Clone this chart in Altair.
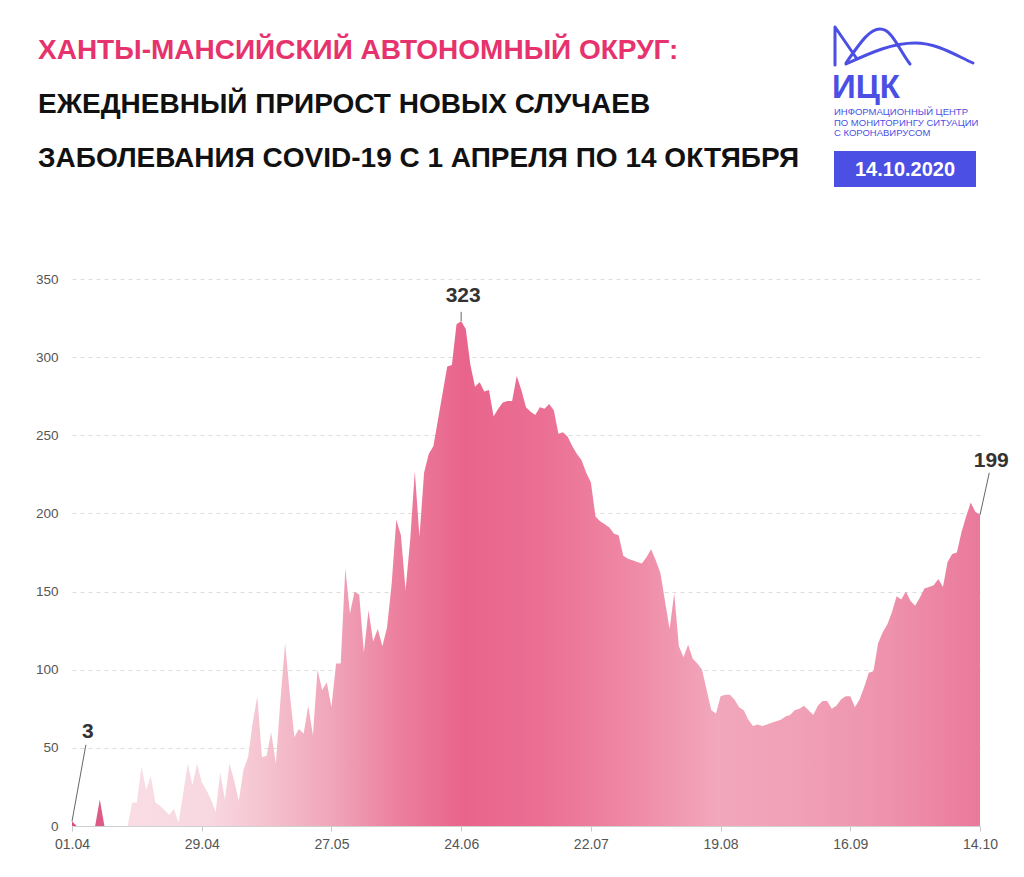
import re
import altair as alt
import pandas as pd

# ---------------- data ----------------
dates = pd.date_range("2020-04-01", "2020-10-14", freq="D")
cases = [
    3, 0, 0, 0, 0, 0, 17, 0, 0, 0,
    0, 0, 0, 15, 15, 38, 23, 32, 15, 13,
    10, 7, 11, 2, 21, 40, 26, 40, 28, 23,
    17, 9, 34, 17, 40, 29, 16, 36, 44, 66,
    83, 44, 45, 60, 40, 81, 117, 85, 57, 62,
    59, 77, 58, 100, 87, 92, 76, 104, 104, 165,
    136, 150, 148, 111, 138, 118, 126, 115, 127, 155,
    196, 186, 151, 183, 227, 185, 226, 238, 243, 260,
    277, 294, 295, 321, 323, 318, 295, 281, 284, 278,
    279, 262, 267, 271, 272, 272, 288, 279, 268, 265,
    263, 268, 267, 270, 266, 251, 252, 249, 243, 238,
    234, 226, 220, 198, 195, 193, 191, 187, 186, 173,
    171, 170, 169, 168, 172, 177, 170, 162, 144, 126,
    149, 115, 108, 116, 107, 104, 100, 87, 74, 72,
    83, 84, 84, 81, 76, 74, 68, 64, 65, 64,
    65, 66, 67, 68, 70, 71, 74, 75, 77, 74,
    71, 77, 80, 80, 75, 77, 81, 83, 83, 76,
    81, 89, 98, 99, 117, 124, 129, 137, 147, 145,
    150, 144, 141, 146, 152, 153, 154, 158, 153, 169,
    174, 175, 188, 198, 207, 201, 199,
]
tick_dates = ["2020-04-01", "2020-04-29", "2020-05-27", "2020-06-24",
              "2020-07-22", "2020-08-19", "2020-09-16", "2020-10-14"]
y_ticks = [0, 50, 100, 150, 200, 250, 300, 350]
ann_dates = ["2020-04-01", "2020-06-24", "2020-10-14"]
ann_values = [3, 323, 199]
ann_labels = ["3", "323", "199"]
title_lines = ["ХАНТЫ-МАНСИЙСКИЙ АВТОНОМНЫЙ ОКРУГ:",
               "ЕЖЕДНЕВНЫЙ ПРИРОСТ НОВЫХ СЛУЧАЕВ",
               "ЗАБОЛЕВАНИЯ COVID-19 С 1 АПРЕЛЯ ПО 14 ОКТЯБРЯ"]
logo_name = "ИЦК"
logo_lines = ["ИНФОРМАЦИОННЫЙ ЦЕНТР", "ПО МОНИТОРИНГУ СИТУАЦИИ", "С КОРОНАВИРУСОМ"]
date_badge = "14.10.2020"

# ---------------- layout / style ----------------
W, H = 908, 547
PAD_L, PAD_T = 64, 271          # plot origin = page (72, 279)
OX, OY = 72, 279
PINK = "#e6336e"
BLUE = "#4b4fe4"
TITLE_FONT = "Liberation Sans, Arial, sans-serif"
BASE_FONT = "Liberation Sans, Arial, sans-serif"


def px(x):
    return x - OX


def py(y):
    return y - OY


def dt(s):
    t = pd.Timestamp(s)
    return alt.DateTime(year=t.year, month=t.month, date=t.day)


df = pd.DataFrame({"date": dates, "value": cases})

x_scale = alt.Scale(domain=[dt(tick_dates[0]), dt(tick_dates[-1])])
y_scale = alt.Scale(domain=[0, 350], nice=False)

gradient = alt.Gradient(
    gradient="linear", x1=0, x2=1, y1=0, y2=0,
    stops=[
        alt.GradientStop(offset=0.0, color="#d94f7e"),
        alt.GradientStop(offset=0.036, color="#dd5c88"),
        alt.GradientStop(offset=0.045, color="#f9dde5"),
        alt.GradientStop(offset=0.15, color="#f8d8e1"),
        alt.GradientStop(offset=0.21, color="#f5c4d1"),
        alt.GradientStop(offset=0.29, color="#f0a3b9"),
        alt.GradientStop(offset=0.36, color="#ec7f9e"),
        alt.GradientStop(offset=0.43, color="#e9648c"),
        alt.GradientStop(offset=0.52, color="#eb6f94"),
        alt.GradientStop(offset=0.60, color="#ee84a2"),
        alt.GradientStop(offset=0.71, color="#f2a7bc"),
        alt.GradientStop(offset=0.80, color="#f0a0b7"),
        alt.GradientStop(offset=0.90, color="#ee92ad"),
        alt.GradientStop(offset=1.0, color="#ea799c"),
    ],
)

area = alt.Chart(df).mark_area(fill=gradient, line=False, interpolate="linear").encode(
    x=alt.X("date:T", scale=x_scale, title=None,
            axis=alt.Axis(values=[dt(s) for s in tick_dates], format="%d.%m",
                          labelFlush=False, labelOverlap=False, grid=False,
                          domainColor="#d0d0d0", tickColor="#c8c8c8", tickSize=5,
                          labelPadding=6, labelFontSize=14, labelColor="#555",
                          labelFont=BASE_FONT)),
    y=alt.Y("value:Q", scale=y_scale, title=None,
            axis=alt.Axis(values=y_ticks, grid=True, gridDash=[4, 4], gridColor="#dcdcdc",
                          domain=False, ticks=False, labelPadding=14, labelFontSize=13.5,
                          labelColor="#555", labelFont=BASE_FONT)),
)

# annotations (label positions are offsets from the data point)
label_offset_days = [3, 0, 2]
leader_top = [52, 329, 226]
text_base = [56, 335, 230]
ann = pd.DataFrame({
    "date": pd.to_datetime(ann_dates),
    "value": ann_values,
    "label": ann_labels,
})
ann["ldate"] = ann["date"] + pd.to_timedelta(label_offset_days, unit="D")
ann["lval"] = leader_top
ann["tval"] = text_base

leaders = alt.Chart(ann).mark_rule(color="#666", strokeWidth=1).encode(
    x=alt.X("date:T", scale=x_scale), y=alt.Y("value:Q", scale=y_scale),
    x2="ldate:T", y2="lval:Q")
ann_text = alt.Chart(ann).mark_text(font=BASE_FONT, fontSize=21, fontWeight="bold",
                                    color="#333", baseline="alphabetic", align="center",
                                    dx=2).encode(
    x=alt.X("ldate:T", scale=x_scale), y=alt.Y("tval:Q", scale=y_scale), text="label:N")

# title lines
title_layers = []
for i, (line, yb) in enumerate(zip(title_lines, [59, 113, 167])):
    title_layers.append(
        alt.Chart(pd.DataFrame({"t": [line]})).mark_text(
            font=TITLE_FONT, fontSize=28, fontWeight="bold", align="left",
            baseline="alphabetic", color=PINK if i == 0 else "#111").encode(
            x=alt.value(px(38)), y=alt.value(py(yb)), text="t:N"))

# logo drawing (custom symbol path)
logo_path_abs = ("M835,27 L835,65 M835,27 L857,59 "
                 "M846,63 C862,40 870,29 880,29 C892,29 898,48 910,64 "
                 "M846,64 C872,52 893,43 915,43 C937,43 955,55 973,63")
LCX, LCY, LS = 905, 45, 71.0


def _conv(m):
    x, y = float(m.group(1)), float(m.group(2))
    return f"{(x - LCX) / LS:.4f},{(y - LCY) / LS:.4f}"


logo_path = re.sub(r"(-?\d+(?:\.\d+)?),(-?\d+(?:\.\d+)?)", _conv, logo_path_abs)
logo_df = pd.DataFrame({"t": [logo_name]})
logo_shape = alt.Chart(logo_df).mark_point(
    shape=logo_path, size=(2 * LS) ** 2, filled=False, stroke=BLUE, strokeWidth=3,
    opacity=1, strokeCap="round", strokeJoin="round").encode(
    x=alt.value(px(LCX)), y=alt.value(py(LCY)))
logo_text = alt.Chart(logo_df).mark_text(
    font=BASE_FONT, fontSize=33, fontWeight="bold", color=BLUE, align="left",
    baseline="alphabetic").encode(x=alt.value(px(832)), y=alt.value(py(98)), text="t:N")
small_layers = []
for line, yb in zip(logo_lines, [115, 125.5, 136]):
    small_layers.append(
        alt.Chart(pd.DataFrame({"t": [line]})).mark_text(
            font=BASE_FONT, fontSize=9.5, color=BLUE, align="left",
            baseline="alphabetic").encode(x=alt.value(px(834)), y=alt.value(py(yb)), text="t:N"))
badge_df = pd.DataFrame({"t": [date_badge]})
badge_rect = alt.Chart(badge_df).mark_rect(color=BLUE).encode(
    x=alt.value(px(834)), x2=alt.value(px(976)), y=alt.value(py(151)), y2=alt.value(py(187)))
badge_text = alt.Chart(badge_df).mark_text(
    font=BASE_FONT, fontSize=20, fontWeight="bold", color="white", align="center",
    baseline="middle").encode(x=alt.value(px(905)), y=alt.value(py(170)), text="t:N")

chart = alt.layer(
    area, leaders, ann_text, *title_layers, logo_shape, logo_text, *small_layers,
    badge_rect, badge_text,
).properties(
    width=W, height=H,
    background="white",
    autosize=alt.AutoSizeParams(type="none"),
    padding={"left": PAD_L, "top": PAD_T, "right": 36, "bottom": 43},
).configure_view(strokeWidth=0, stroke="transparent")

chart.save("out.html", embed_options={"renderer": "svg", "actions": False})
